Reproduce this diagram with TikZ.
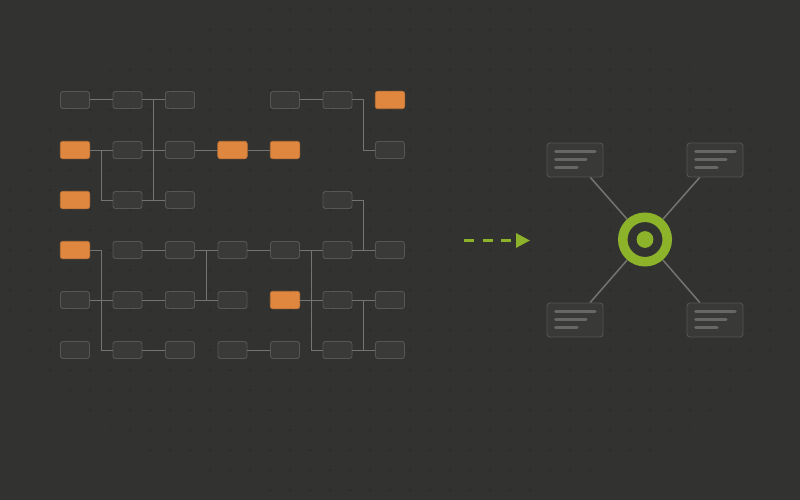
\documentclass[tikz,border=0pt]{standalone}
\usetikzlibrary{calc,arrows.meta}
\definecolor{bgcol}{HTML}{323331}
\definecolor{dotcol}{HTML}{282927}
\definecolor{boxfill}{HTML}{3A3B39}
\definecolor{boxline}{HTML}{565754}
\definecolor{orangec}{HTML}{E0873F}
\definecolor{linkc}{HTML}{747572}
\definecolor{greenc}{HTML}{8DB32B}
\definecolor{cardfill}{HTML}{393A38}
\definecolor{cardline}{HTML}{545553}
\definecolor{cardtext}{HTML}{676865}
\begin{document}
\begin{tikzpicture}[x=1pt,y=-1pt,
  gbox/.style={draw=boxline,fill=boxfill,line width=0.9pt,rounded corners=2.5pt,minimum width=29pt,minimum height=17pt,inner sep=0pt},
  obox/.style={draw=orangec!85!black,fill=orangec,line width=0.6pt,rounded corners=2.5pt,minimum width=29.5pt,minimum height=17.5pt,inner sep=0pt},
  link/.style={draw=linkc,line width=1pt},
  card/.style={draw=cardline,fill=cardfill,line width=0.9pt,rounded corners=3pt,minimum width=56pt,minimum height=34pt,inner sep=0pt},
  cardbar/.style={draw=cardtext,line width=3pt,line cap=round},
  spoke/.style={draw=linkc,line width=1.5pt}]
\useasboundingbox (0,0) rectangle (800,500);
\fill[bgcol] (0,0) rectangle (800,500);
\begin{scope}
  \clip (400,250) ellipse (410 and 255);
  \foreach \i in {0,...,39} \foreach \j in {0,...,24}
    \fill[dotcol] (10+20*\i,10+20*\j) circle (1);
\end{scope}
% grid nodes: row y, col x
\def\cA{75}\def\cB{127.5}\def\cC{180}\def\cD{232.5}\def\cE{285}\def\cF{337.5}\def\cG{390}
% row 1
\node[gbox] (n11) at (\cA,100) {};
\node[gbox] (n12) at (\cB,100) {};
\node[gbox] (n13) at (\cC,100) {};
\node[gbox] (n15) at (\cE,100) {};
\node[gbox] (n16) at (\cF,100) {};
\node[obox] (n17) at (\cG,100) {};
% row 2
\node[obox] (n21) at (\cA,150) {};
\node[gbox] (n22) at (\cB,150) {};
\node[gbox] (n23) at (\cC,150) {};
\node[obox] (n24) at (\cD,150) {};
\node[obox] (n25) at (\cE,150) {};
\node[gbox] (n27) at (\cG,150) {};
% row 3
\node[obox] (n31) at (\cA,200) {};
\node[gbox] (n32) at (\cB,200) {};
\node[gbox] (n33) at (\cC,200) {};
\node[gbox] (n36) at (\cF,200) {};
% row 4
\node[obox] (n41) at (\cA,250) {};
\node[gbox] (n42) at (\cB,250) {};
\node[gbox] (n43) at (\cC,250) {};
\node[gbox] (n44) at (\cD,250) {};
\node[gbox] (n45) at (\cE,250) {};
\node[gbox] (n46) at (\cF,250) {};
\node[gbox] (n47) at (\cG,250) {};
% row 5
\node[gbox] (n51) at (\cA,300) {};
\node[gbox] (n52) at (\cB,300) {};
\node[gbox] (n53) at (\cC,300) {};
\node[gbox] (n54) at (\cD,300) {};
\node[obox] (n55) at (\cE,300) {};
\node[gbox] (n56) at (\cF,300) {};
\node[gbox] (n57) at (\cG,300) {};
% row 6
\node[gbox] (n61) at (\cA,350) {};
\node[gbox] (n62) at (\cB,350) {};
\node[gbox] (n63) at (\cC,350) {};
\node[gbox] (n64) at (\cD,350) {};
\node[gbox] (n65) at (\cE,350) {};
\node[gbox] (n66) at (\cF,350) {};
\node[gbox] (n67) at (\cG,350) {};
% connectors
\draw[link] (n11) -- (n12);
\draw[link] (n12) -- (n13);
\draw[link] (n22) -- (n23);
\draw[link] (n32) -- (n33);
\draw[link] ($(n12.east)!.5!(n13.west)$) -- ($(n32.east)!.5!(n33.west)$);
\draw[link] (n21) -- (n22);
\draw[link] ($(n21.east)!.5!(n22.west)$) |- (n32.west);
\draw[link] (n23) -- (n24);
\draw[link] (n24) -- (n25);
\draw[link] (n15) -- (n16);
\draw[link] (n16.east) -- ($(n16.east)!.5!(n17.west)$) |- (n27.west);
\draw[link] (n36.east) -- ($(n36.east)!.5!(n47.west |- n36.east)$) |- (n47.west);
\draw[link] (n46) -- (n47);
\draw[link] (n41.east) -- ($(n41.east)!.5!(n42.west)$) |- (n62.west);
\draw[link] (n51) -- (n52);
\draw[link] (n42) -- (n43);
\draw[link] (n43) -- (n44);
\draw[link] (n53) -- (n54);
\draw[link] ($(n43.east)!.5!(n44.west)$) -- ($(n53.east)!.5!(n54.west)$);
\draw[link] (n52) -- (n53);
\draw[link] (n62) -- (n63);
\draw[link] (n44) -- (n45);
\draw[link] (n45) -- (n46);
\draw[link] (n55) -- (n56);
\draw[link] ($(n45.east)!.5!(n46.west)$) |- (n66.west);
\draw[link] (n56) -- (n57);
\draw[link] (n66) -- (n67);
\draw[link] ($(n56.east)!.5!(n57.west)$) -- ($(n66.east)!.5!(n67.west)$);
\draw[link] (n64) -- (n65);
% dashed arrow
\coordinate (arrS) at (464,240.5);
\coordinate (arrE) at (530,240.5);
\draw[greenc,line width=3pt,dash pattern=on 10pt off 8.5pt,-{Triangle[length=14pt,width=14pt]}] (arrS) -- (arrE);
% hub and cards
\node[circle,minimum size=54pt,inner sep=0pt] (hub) at (645,239.5) {};
\node[card] (c1) at (575,160) {};
\node[card] (c2) at (715,160) {};
\node[card] (c3) at (575,320) {};
\node[card] (c4) at (715,320) {};
\foreach \c in {c1,c2,c3,c4}{
  \draw[spoke] (hub) -- (\c);
  \draw[cardbar] ($(\c.center)+(-19.5,-8.3)$) -- ++(39.5,0);
  \draw[cardbar] ($(\c.center)+(-19.5,-0.3)$) -- ++(30.5,0);
  \draw[cardbar] ($(\c.center)+(-19.5,7.7)$) -- ++(21.5,0);
}
\draw[greenc,line width=9.5pt] (hub.center) circle (22.25);
\fill[greenc] (hub.center) circle (8.4);
\end{tikzpicture}
\end{document}
